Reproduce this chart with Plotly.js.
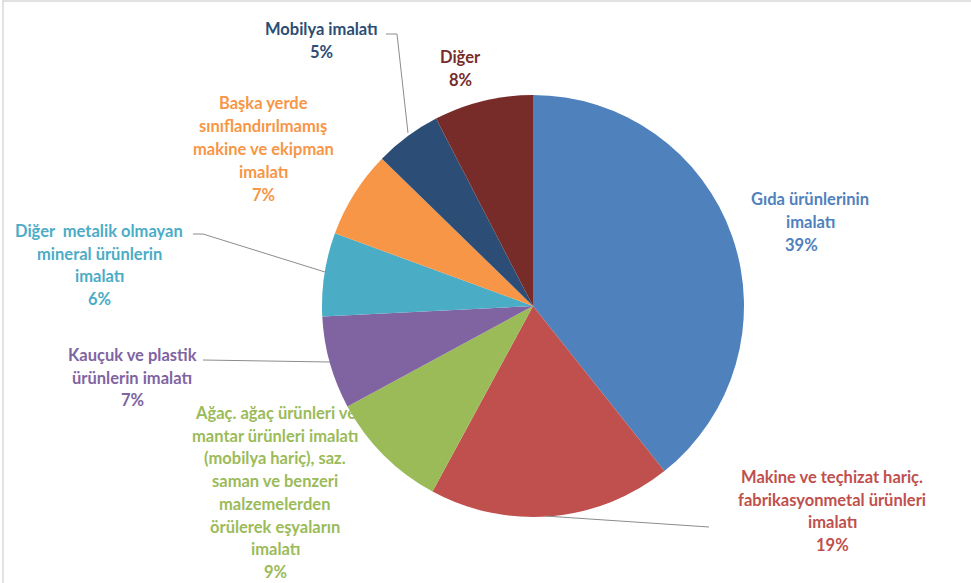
<!DOCTYPE html>
<html>
<head>
<meta charset="utf-8">
<script src="https://cdn.plot.ly/plotly-3.0.1.min.js"></script>
<style>html,body{margin:0;padding:0;background:#fff;}#chart{width:971px;height:583px;}</style>
</head>
<body>
<div id="chart"></div>
<script>
// ---- data ----
const categories = [
  "Gıda ürünlerinin imalatı",
  "Makine ve teçhizat hariç. fabrikasyonmetal ürünleri imalatı",
  "Ağaç. ağaç ürünleri ve mantar ürünleri imalatı (mobilya hariç), saz. saman ve benzeri malzemelerden örülerek eşyaların imalatı",
  "Kauçuk ve plastik ürünlerin imalatı",
  "Diğer  metalik olmayan mineral ürünlerin imalatı",
  "Başka yerde sınıflandırılmamış makine ve ekipman imalatı",
  "Mobilya imalatı",
  "Diğer"
];
const values = [39.3, 18.6, 9.2, 7.1, 6.4, 6.7, 5.1, 7.6];
const percentLabels = ["39%", "19%", "9%", "7%", "6%", "7%", "5%", "8%"];
const labelLines = [
  ["Gıda ürünlerinin", "imalatı"],
  ["Makine ve teçhizat hariç.", "fabrikasyonmetal ürünleri", "imalatı"],
  ["Ağaç. ağaç ürünleri ve", "mantar ürünleri imalatı", "(mobilya hariç), saz.", "saman ve benzeri", "malzemelerden", "örülerek eşyaların", "imalatı"],
  ["Kauçuk ve plastik", "ürünlerin imalatı"],
  ["Diğer  metalik olmayan", "mineral ürünlerin", "imalatı"],
  ["Başka yerde", "sınıflandırılmamış", "makine ve ekipman", "imalatı"],
  ["Mobilya imalatı"],
  ["Diğer"]
];
const colors = ["#4F81BD", "#C0504D", "#9BBB59", "#8064A2", "#4BACC6", "#F79646", "#2C4D75", "#772C2A"];
const textColors = ["#4F81BD", "#C0504D", "#9BBB59", "#8064A2", "#4BACC6", "#F79646", "#2C4D75", "#772C2A"];

// ---- layout helpers (pixel -> paper) ----
const W = 971, H = 583;
const px = x => x / W;
const py = y => 1 - y / H;

// label block anchor: center x, first line y, line spacing
const labelPos = [
  {x: 810, y: 199, dy: 23},
  {x: 832, y: 477, dy: 22.7},
  {x: 275, y: 413, dy: 22.7},
  {x: 132, y: 355, dy: 22.5},
  {x: 99,  y: 231, dy: 22.7},
  {x: 263, y: 103, dy: 23},
  {x: 321, y: 29,  dy: 23},
  {x: 460, y: 57,  dy: 23}
];

const annotations = [];
labelLines.forEach((lines, i) => {
  const p = labelPos[i];
  const all = lines.concat([percentLabels[i]]);
  all.forEach((t, k) => {
    annotations.push({
      text: t, xref: "paper", yref: "paper",
      x: px(i === 0 && k === all.length - 1 ? 801 : p.x), y: py(p.y + k * p.dy),
      xanchor: "center", yanchor: "middle", showarrow: false,
      font: {family: "Lato, 'Open Sans', sans-serif", size: 16.5, color: textColors[i], weight: "bold"}
    });
  });
});

const leaderColor = "#8c8c8c";
const leaders = [
  [[386, 34], [397, 34], [408, 133]],
  [[193, 234], [203, 234], [325, 272]],
  [[203, 360], [330, 362]],
  [[545, 516], [709, 527]]
];
const shapes = leaders.map(pts => ({
  type: "path", xref: "paper", yref: "paper",
  path: pts.map((p, k) => (k ? "L" : "M") + px(p[0]) + "," + py(p[1])).join(" "),
  line: {color: leaderColor, width: 1}
}));
shapes.push({type: "line", xref: "paper", yref: "paper", x0: px(3), x1: px(3), y0: py(0), y1: py(583), line: {color: "#d9d9d9", width: 1.5}});
shapes.push({type: "line", xref: "paper", yref: "paper", x0: px(3), x1: px(971), y0: py(1), y1: py(1), line: {color: "#d9d9d9", width: 1.5}});

const cx = 533, cy = 306, r = 211;
const trace = {
  type: "pie",
  labels: categories,
  values: values,
  sort: false,
  direction: "clockwise",
  rotation: 0,
  textinfo: "none",
  hoverinfo: "label+percent",
  marker: {colors: colors, line: {width: 0}},
  domain: {x: [px(cx - r), px(cx + r)], y: [py(cy + r), py(cy - r)]},
  showlegend: false
};

Plotly.newPlot("chart", [trace], {
  width: W, height: H,
  margin: {l: 0, r: 0, t: 0, b: 0},
  paper_bgcolor: "#ffffff",
  showlegend: false,
  annotations: annotations,
  shapes: shapes
}, {displayModeBar: false, staticPlot: true});
</script>
</body>
</html>
